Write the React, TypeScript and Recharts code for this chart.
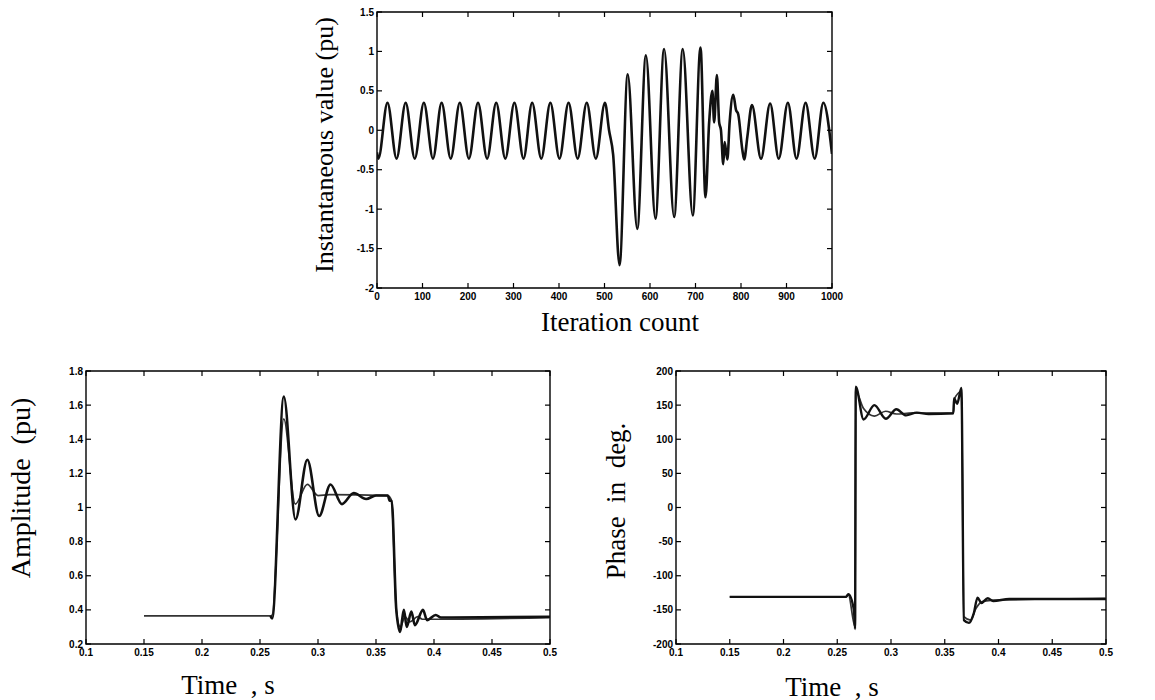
import React from "react";
import { LineChart, Line, XAxis, YAxis, ReferenceArea } from "recharts";

// top panel: instantaneous signal vs iteration
const steadyIter = [0, 3, 23, 43, 63, 83, 103, 123, 142, 162, 182, 202, 222, 242, 262, 282, 302, 322, 341, 361, 381, 401, 421, 441, 461, 481, 501];
const steadyValue = [-0.28, -0.36, 0.35, -0.36, 0.35, -0.36, 0.35, -0.36, 0.35, -0.36, 0.35, -0.36, 0.35, -0.36, 0.35, -0.36, 0.35, -0.36, 0.35, -0.36, 0.35, -0.36, 0.35, -0.36, 0.35, -0.36, 0.35];
const faultIter = [510, 519, 533, 551, 572, 591, 612, 631, 653, 672, 694, 711, 722, 730, 737, 741, 747, 752, 756, 761, 764, 770, 775, 783, 789, 794, 803, 807, 814, 824, 844, 864, 883, 903, 922, 942, 962, 981, 1000];
const faultValue = [0.0, -0.31, -1.71, 0.71, -1.25, 0.95, -1.12, 1.03, -1.1, 1.03, -1.08, 1.05, -0.85, 0.1, 0.5, 0.1, 0.7, 0.1, 0.0, -0.43, -0.15, -0.37, 0.1, 0.45, 0.26, 0.2, -0.25, -0.37, -0.08, 0.32, -0.36, 0.34, -0.36, 0.35, -0.36, 0.35, -0.36, 0.35, -0.3];

const iterTicks = [0, 100, 200, 300, 400, 500, 600, 700, 800, 900, 1000];
const instTicks = [-2, -1.5, -1, -0.5, 0, 0.5, 1, 1.5];

// bottom panels
const timeTicks = [0.1, 0.15, 0.2, 0.25, 0.3, 0.35, 0.4, 0.45, 0.5];
const ampTicks = [0.2, 0.4, 0.6, 0.8, 1, 1.2, 1.4, 1.6, 1.8];
const phaseTicks = [-200, -150, -100, -50, 0, 50, 100, 150, 200];

const ampTimeA = [0.259, 0.2605, 0.2705, 0.2806, 0.2908, 0.301, 0.3108, 0.3206, 0.3308, 0.3415, 0.35, 0.3602, 0.3618, 0.3635, 0.3675, 0.3708, 0.374, 0.3765, 0.3805, 0.3835, 0.3905, 0.394, 0.4015, 0.406, 0.5];
const ampA = [0.365, 0.35, 1.65, 0.93, 1.28, 0.95, 1.135, 1.02, 1.085, 1.05, 1.07, 1.07, 1.04, 1.04, 0.4, 0.27, 0.4, 0.3, 0.39, 0.31, 0.4, 0.34, 0.37, 0.355, 0.36];
const ampTimeB = [0.15, 0.259, 0.2605, 0.2705, 0.2804, 0.2908, 0.3, 0.31, 0.3602, 0.3635, 0.3675, 0.371, 0.375, 0.379, 0.386, 0.39, 0.5];
const ampB = [0.365, 0.365, 0.37, 1.52, 1.02, 1.135, 1.07, 1.075, 1.07, 1.04, 0.4, 0.3, 0.36, 0.33, 0.36, 0.345, 0.355];

const phTimeA = [0.15, 0.258, 0.2603, 0.2655, 0.2666, 0.2672, 0.2745, 0.2845, 0.2952, 0.305, 0.314, 0.324, 0.335, 0.358, 0.3587, 0.3615, 0.3655, 0.3678, 0.3725, 0.377, 0.3805, 0.384, 0.39, 0.395, 0.41, 0.5];
const phA = [-131, -131, -127, -150, -178, 177, 129, 150, 130, 144, 135, 139, 137, 138, 160, 152, 175, -165, -169, -155, -132, -140, -133, -137, -134, -134];
const phTimeB = [0.15, 0.258, 0.2603, 0.2666, 0.2672, 0.2745, 0.2845, 0.295, 0.305, 0.32, 0.358, 0.3587, 0.3655, 0.3678, 0.374, 0.379, 0.385, 0.393, 0.5];
const phB = [-131, -131, -128, -175, 170, 145, 134, 141, 137, 138.5, 138, 158, 170, -160, -165, -148, -138, -136, -133];

const zip = (xs: number[], ys: number[]) => xs.map((x, i) => ({ x, y: ys[i] }));

const tickFont: React.CSSProperties = {
  fontFamily: "'Liberation Sans', Arial, sans-serif",
  fontWeight: 700,
  fontSize: 10,
  fill: "#000",
};

const AXIS_W = 40; // room reserved for y tick labels
const AXIS_H = 30; // room reserved for x tick labels

type Series = { data: { x: number; y: number }[]; width: number; color: string };

type PanelProps = {
  left: number;
  top: number;
  width: number;
  height: number;
  px: number; // plot area inside the svg
  py: number;
  pw: number;
  ph: number;
  xDomain: [number, number];
  xTicks: number[];
  yDomain: [number, number];
  yTicks: number[];
  series: Series[];
};

function Panel(p: PanelProps) {
  const xTick = (t: any) => (
    <g>
      <line x1={t.x} x2={t.x} y1={t.y} y2={t.y - 5} stroke="#000" strokeWidth={1.2} />
      <line x1={t.x} x2={t.x} y1={t.y - p.ph} y2={t.y - p.ph + 5} stroke="#000" strokeWidth={1.2} />
      <text x={t.x} y={t.y + 12} textAnchor="middle" style={tickFont}>
        {String(t.payload.value)}
      </text>
    </g>
  );
  const yTick = (t: any) => (
    <g>
      <line x1={t.x} x2={t.x + 5} y1={t.y} y2={t.y} stroke="#000" strokeWidth={1.2} />
      <line x1={t.x + p.pw} x2={t.x + p.pw - 5} y1={t.y} y2={t.y} stroke="#000" strokeWidth={1.2} />
      <text x={t.x - 3} y={t.y + 3.5} textAnchor="end" style={tickFont}>
        {String(t.payload.value)}
      </text>
    </g>
  );
  return (
    <div style={{ position: "absolute", left: p.left, top: p.top }}>
      <LineChart
        width={p.width}
        height={p.height}
        margin={{
          top: p.py,
          left: p.px - AXIS_W,
          right: p.width - p.px - p.pw,
          bottom: p.height - p.py - p.ph - AXIS_H,
        }}
      >
        <XAxis
          dataKey="x"
          type="number"
          domain={p.xDomain}
          ticks={p.xTicks}
          interval={0}
          height={AXIS_H}
          tickSize={0}
          tickMargin={0}
          axisLine={false}
          tickLine={false}
          tick={xTick}
          allowDataOverflow
        />
        <YAxis
          type="number"
          domain={p.yDomain}
          ticks={p.yTicks}
          interval={0}
          width={AXIS_W}
          tickSize={0}
          tickMargin={0}
          axisLine={false}
          tickLine={false}
          tick={yTick}
          allowDataOverflow
        />
        <ReferenceArea
          x1={p.xDomain[0]}
          x2={p.xDomain[1]}
          y1={p.yDomain[0]}
          y2={p.yDomain[1]}
          fill="none"
          stroke="#000"
          strokeWidth={1.4}
          ifOverflow="visible"
        />
        {p.series.map((s, i) => (
          <Line
            key={i}
            data={s.data}
            dataKey="y"
            type="monotone"
            dot={false}
            stroke={s.color}
            strokeWidth={s.width}
            isAnimationActive={false}
          />
        ))}
      </LineChart>
    </div>
  );
}

const title: React.CSSProperties = {
  position: "absolute",
  fontFamily: "'Liberation Serif', 'Times New Roman', serif",
  color: "#000",
  whiteSpace: "pre",
  lineHeight: 1,
};

function Title({ text, x, y, size, rotate }: { text: string; x: number; y: number; size: number; rotate?: boolean }) {
  return (
    <div
      style={{
        ...title,
        left: x,
        top: y,
        fontSize: size,
        transform: `translate(-50%, -50%)${rotate ? " rotate(-90deg)" : ""}`,
      }}
    >
      {text}
    </div>
  );
}

export default function App() {
  return (
    <div style={{ position: "absolute", left: 0, top: 0, width: 1155, height: 700, background: "#fff", overflow: "hidden" }}>
      <Panel
        left={330}
        top={0}
        width={530}
        height={310}
        px={47}
        py={12}
        pw={455}
        ph={276}
        xDomain={[0, 1000]}
        xTicks={iterTicks}
        yDomain={[-2, 1.5]}
        yTicks={instTicks}
        series={[{ data: [...zip(steadyIter, steadyValue), ...zip(faultIter, faultValue)], width: 2.6, color: "#111" }]}
      />
      <Title text="Instantaneous value (pu)" x={325} y={145} size={26} rotate />
      <Title text="Iteration count" x={620} y={322} size={27} />

      <Panel
        left={40}
        top={360}
        width={530}
        height={310}
        px={46}
        py={11}
        pw={464}
        ph={273}
        xDomain={[0.1, 0.5]}
        xTicks={timeTicks}
        yDomain={[0.2, 1.8]}
        yTicks={ampTicks}
        series={[
          { data: zip(ampTimeB, ampB), width: 1.7, color: "#333" },
          { data: zip(ampTimeA, ampA), width: 2.6, color: "#111" },
        ]}
      />
      <Title text="Amplitude  (pu)" x={21} y={488} size={28} rotate />
      <Title text="Time  , s" x={228} y={685} size={27} />

      <Panel
        left={620}
        top={360}
        width={535}
        height={310}
        px={56}
        py={11}
        pw={430}
        ph={273}
        xDomain={[0.1, 0.5]}
        xTicks={timeTicks}
        yDomain={[-200, 200]}
        yTicks={phaseTicks}
        series={[
          { data: zip(phTimeB, phB), width: 1.7, color: "#333" },
          { data: zip(phTimeA, phA), width: 2.4, color: "#111" },
        ]}
      />
      <Title text="Phase  in  deg." x={616} y={501} size={27} rotate />
      <Title text="Time  , s" x={832} y={687} size={27} />
    </div>
  );
}
